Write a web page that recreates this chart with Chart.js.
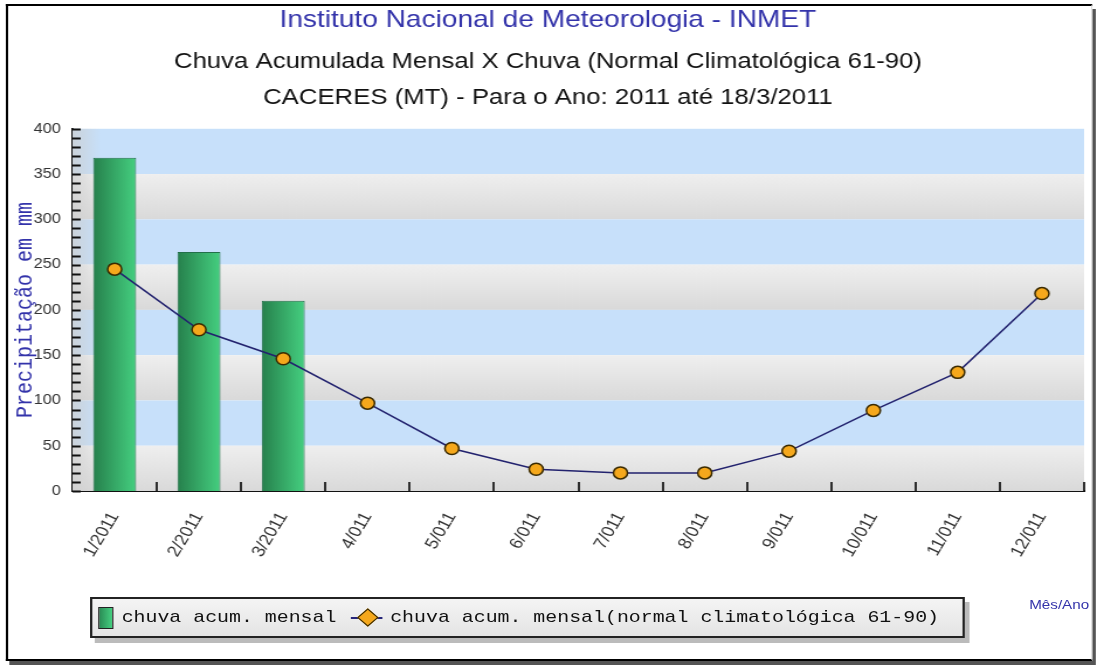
<!DOCTYPE html>
<html>
<head>
<meta charset="utf-8">
<script src="https://cdn.jsdelivr.net/npm/chart.js@4"></script>
<style>
  html, body { margin: 0; padding: 0; background: #fff; overflow: hidden; }
  /* the original picture is stretched sideways, so the whole page is too */
  #wrap { position: relative; width: 938px; height: 665px; transform: scaleX(1.1695); transform-origin: 0 0; }
  #frame {
    position: absolute; left: 5px; top: 4px; width: 926px; height: 653px;
    border-top: 2px solid #000; border-left: 2px solid #000; border-bottom: 2px solid #000;
    border-right: 1px solid #ddd;
    box-shadow: 3px 5px 0 #555;
    background: #fff;
  }
  canvas { position: absolute; left: 0; top: 0; }
  #legend {
    position: absolute; left: 77px; top: 597px; width: 744px; height: 37px;
    border: 2px solid #222; background: linear-gradient(#f4f4f4, #e4e4e4);
    box-shadow: 4px 5px 0 #bbb;
    font-family: "Liberation Mono", "DejaVu Sans Mono", monospace; font-size: 17px;
    color: #111;
    display: flex; align-items: center; white-space: nowrap;
  }
  #legend .item { display: flex; align-items: center; }
  #legend .sw { width: 11px; height: 20px; border: 1px solid #222; margin: 0 7px 0 5px;
    background: linear-gradient(90deg, #2a8c55, #45cf80); }
  #legend .ln { position: relative; width: 27px; height: 20px; margin: 0 7px 0 12px; }
  #legend .ln:before { content: ""; position: absolute; left: 0; right: 0; top: 9px; height: 2px; background: #26267a; }
  #legend .ln:after { content: ""; position: absolute; left: 8px; top: 3px; width: 11px; height: 11px; border: 1.5px solid #3a2a00;
    background: #f5a81c; transform: rotate(45deg); }
  #xtitle { position: absolute; left: 880px; top: 597px; font-family: "Liberation Sans", Arial, sans-serif;
    font-size: 13px; color: #3333aa; }
</style>
</head>
<body>
<div id="wrap">
  <div id="frame"></div>
  <canvas id="chart" width="938" height="665"></canvas>
  <div id="legend"></div>
  <div id="xtitle">Mês/Ano</div>
</div>
<script>
const months = ['1/2011', '2/2011', '3/2011', '4/011', '5/011', '6/011', '7/011', '8/011', '9/011', '10/011', '11/011', '12/011'];
const rainMonthly = [368, 264, 210, null, null, null, null, null, null, null, null, null];
const rainNormal = [245, 178, 146, 97, 47, 24, 20, 20, 44, 89, 131, 218];
const seriesNames = ['chuva acum. mensal', 'chuva acum. mensal(normal climatológica 61-90)'];
const titleText = 'Instituto Nacional de Meteorologia - INMET';
const subtitleLines = ['Chuva Acumulada Mensal X Chuva (Normal Climatológica 61-90)', 'CACERES (MT) - Para o Ano: 2011 até 18/3/2011'];
const yTitle = 'Precipitação em mm';
const yMax = 400;
const yStep = 50;

// legend in html, built from the series names
const legend = document.getElementById('legend');
legend.innerHTML =
  '<div class="item"><span class="sw"></span>' + seriesNames[0] + '</div>' +
  '<div class="item"><span class="ln"></span>' + seriesNames[1] + '</div>';

// striped background + tick marks inside the plot
const plotDecor = {
  id: 'plotDecor',
  beforeDatasetsDraw(chart) {
    const { ctx, chartArea: a, scales: { x, y } } = chart;
    ctx.save();
    let k = 0;
    for (let v = yMax; v > 0; v -= yStep) {
      const top = y.getPixelForValue(v), bot = y.getPixelForValue(v - yStep);
      if (k % 2 === 0) {
        ctx.fillStyle = '#c7e0fa';
      } else {
        const g = ctx.createLinearGradient(0, top, 0, bot);
        g.addColorStop(0, '#efefef');
        g.addColorStop(1, '#d9d9d9');
        ctx.fillStyle = g;
      }
      ctx.fillRect(a.left, top, a.width, bot - top);
      k++;
    }
    // soft gray shade near the y axis
    const sh = ctx.createLinearGradient(a.left, 0, a.left + 24, 0);
    sh.addColorStop(0, 'rgba(205,205,205,0.7)');
    sh.addColorStop(1, 'rgba(205,205,205,0)');
    ctx.fillStyle = sh;
    ctx.fillRect(a.left, a.top, 24, a.height);

    ctx.strokeStyle = '#111';
    ctx.lineWidth = 2;
    ctx.beginPath();
    for (let v = 0; v <= yMax; v += 10) {
      const py = Math.round(y.getPixelForValue(v)) + 0.5;
      ctx.moveTo(a.left, py);
      ctx.lineTo(a.left + 7, py);
    }
    ctx.stroke();
    ctx.lineWidth = 1.7;
    ctx.beginPath();
    for (let i = 1; i <= months.length; i++) {
      const bx = i === months.length ? a.right
        : Math.round((x.getPixelForValue(i - 1) + x.getPixelForValue(i)) / 2);
      ctx.moveTo(bx, a.bottom);
      ctx.lineTo(bx, a.bottom - 9);
    }
    ctx.stroke();
    ctx.restore();
  }
};

const barPct = 0.51;

new Chart(document.getElementById('chart'), {
  data: {
    labels: months,
    datasets: [
      {
        type: 'line',
        label: seriesNames[1],
        data: rainNormal,
        order: 0,
        borderColor: '#22226e',
        borderWidth: 1.5,
        pointRadius: 6,
        pointBackgroundColor: '#f5a81c',
        pointBorderColor: '#3a2a00',
        pointBorderWidth: 1.5,
        tension: 0
      },
      {
        type: 'bar',
        label: seriesNames[0],
        data: rainMonthly,
        order: 1,
        categoryPercentage: 1,
        barPercentage: barPct,
        borderColor: '#23704a',
        borderWidth: 1,
        borderSkipped: 'bottom',
        backgroundColor: (c) => {
          const chart = c.chart;
          const a = chart.chartArea;
          if (!a || c.type !== 'data') return '#3cb371';
          const cx = chart.scales.x.getPixelForValue(c.dataIndex);
          const w = a.width / months.length * barPct;
          const g = chart.ctx.createLinearGradient(cx - w / 2, 0, cx + w / 2, 0);
          g.addColorStop(0, '#26804c');
          g.addColorStop(1, '#45cf80');
          return g;
        }
      }
    ]
  },
  options: {
    responsive: false,
    animation: false,
    layout: { padding: { left: 10, right: 11, top: 0, bottom: 74 } },
    plugins: {
      legend: { display: false },
      tooltip: { enabled: false },
      title: {
        display: true,
        text: titleText,
        color: '#3333aa',
        font: { family: 'Liberation Sans', size: 24, weight: 'normal', lineHeight: 1.2 },
        padding: { top: 6, bottom: 9 }
      },
      subtitle: {
        display: true,
        text: subtitleLines,
        color: '#111',
        font: { family: 'Liberation Sans', size: 22, weight: 'normal', lineHeight: 1.636 },
        padding: { top: 0, bottom: 13 }
      }
    },
    scales: {
      x: {
        grid: { display: false },
        border: { display: true, color: '#111', width: 2 },
        ticks: {
          color: '#333',
          font: { family: 'Liberation Sans', size: 16 },
          minRotation: 62,
          maxRotation: 62,
          padding: 10
        },
        afterFit: (s) => { s.height = 100; }
      },
      y: {
        min: 0,
        max: yMax,
        grid: { display: false },
        border: { display: true, color: '#111', width: 2 },
        ticks: {
          stepSize: yStep,
          color: '#333',
          font: { family: 'Liberation Sans', size: 14 },
          padding: 2
        },
        title: {
          display: true,
          text: yTitle,
          color: '#3333aa',
          font: { family: 'Liberation Mono', size: 20 },
          padding: 0
        },
        afterFit: (s) => { s.width = 52; }
      }
    }
  },
  plugins: [plotDecor]
});
</script>
</body>
</html>
